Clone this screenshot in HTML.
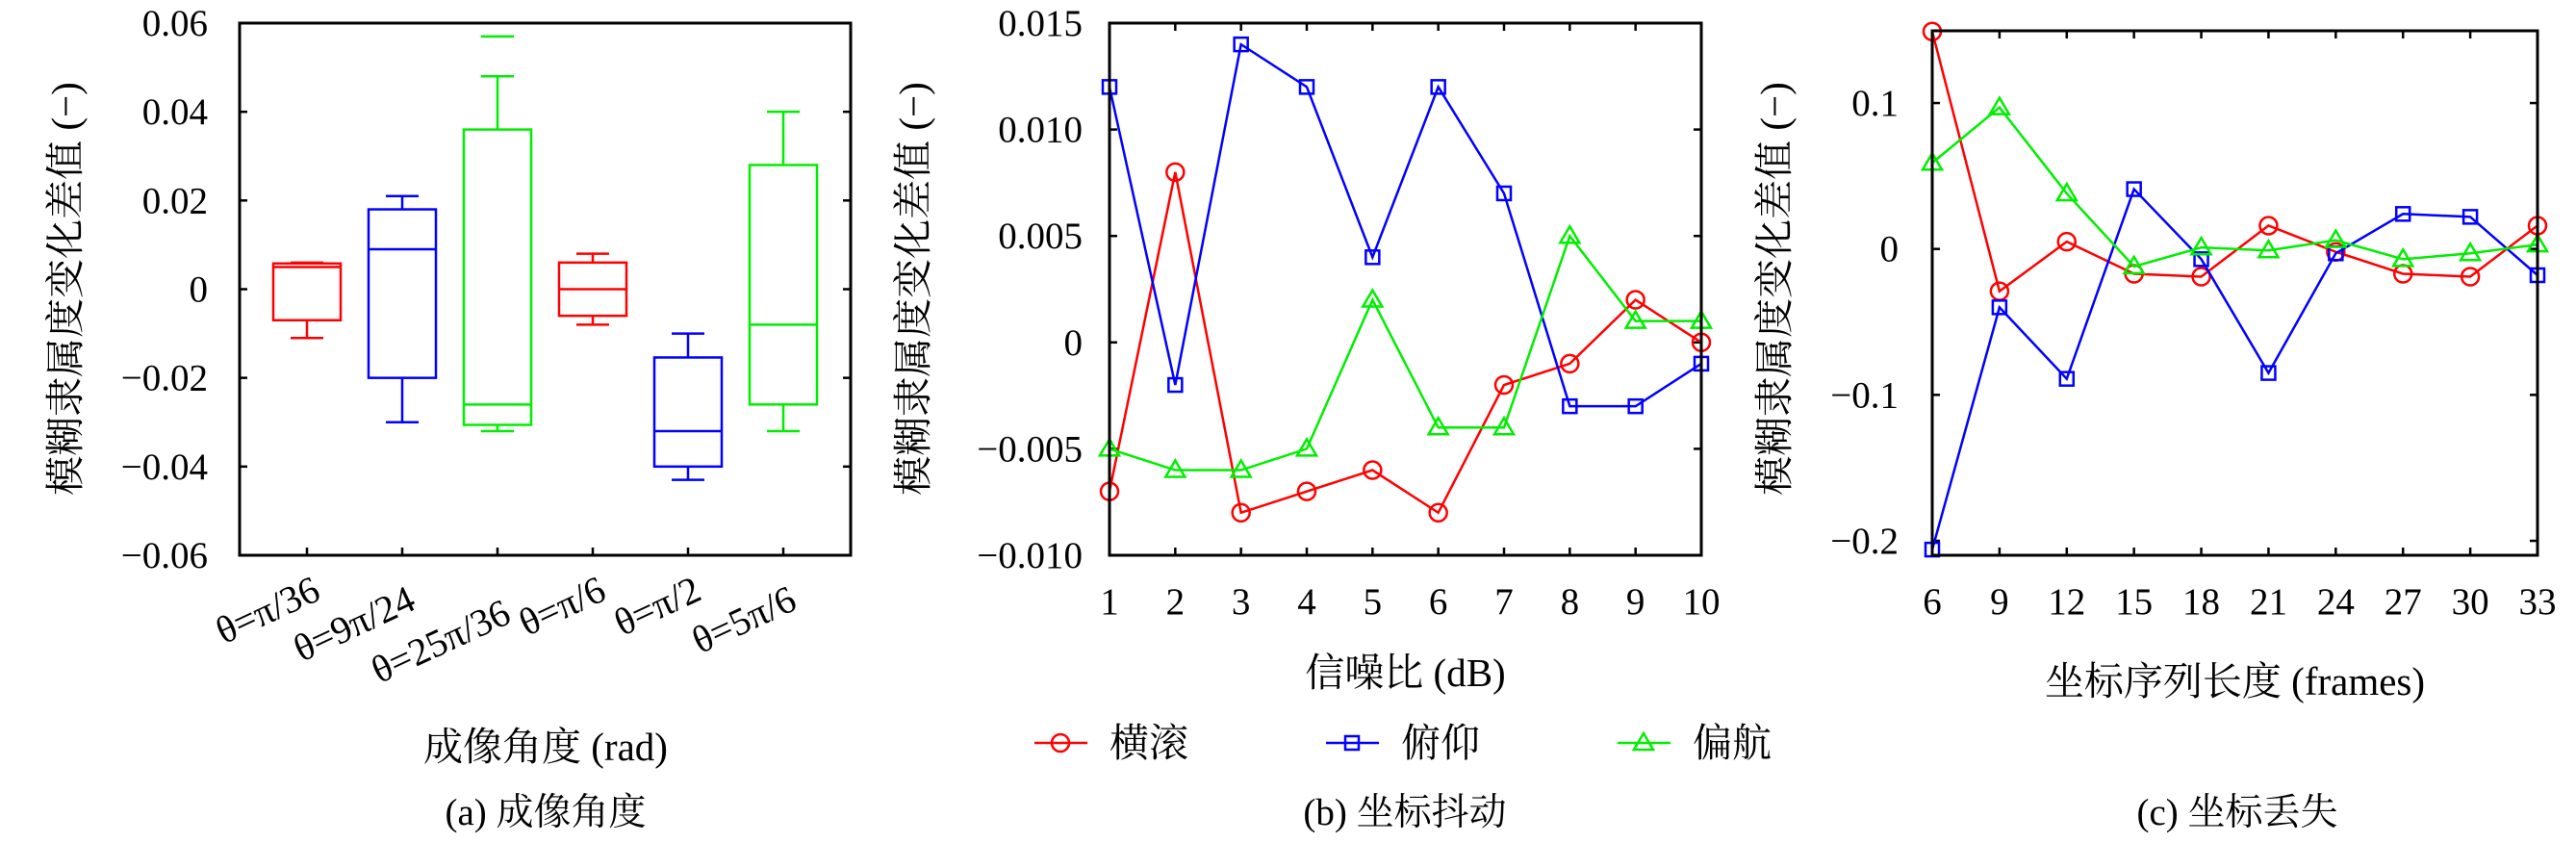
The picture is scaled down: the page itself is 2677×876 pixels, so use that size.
<!DOCTYPE html>
<html><head><meta charset="utf-8"><style>
html,body{margin:0;padding:0;background:#fff;}
svg{display:block;}
text{font-family:"Liberation Serif","Noto Serif CJK SC",serif;fill:#000;}
.cjk{font-family:"Liberation Serif","Noto Serif CJK SC",serif;}
</style></head><body>
<svg id="fig" width="2677" height="876" viewBox="0 0 2677 876" xmlns="http://www.w3.org/2000/svg"></svg>
<script>
// ---- Panel (a) box plot data ----
const boxCategories = ["θ=π/36","θ=9π/24","θ=25π/36","θ=π/6","θ=π/2","θ=5π/6"];
const boxColors = ["#ff0000","#0000ff","#00ee00","#ff0000","#0000ff","#00ee00"];
const boxMax = [0.006, 0.021, 0.048, 0.008, -0.010, 0.040];
const boxQ3 = [0.0058, 0.018, 0.036, 0.006, -0.0154, 0.028];
const boxMedian = [0.005, 0.009, -0.026, 0.000, -0.032, -0.008];
const boxQ1 = [-0.007, -0.020, -0.0306, -0.006, -0.040, -0.026];
const boxMin = [-0.011, -0.030, -0.032, -0.008, -0.043, -0.032];
const boxOutlier = [null, null, 0.057, null, null, null];
const aTicks = [0.06,0.04,0.02,0,-0.02,-0.04,-0.06];
const aTickLabels = ["0.06","0.04","0.02","0","−0.02","−0.04","−0.06"];

// ---- Panel (b) data ----
const bX = [1,2,3,4,5,6,7,8,9,10];
const bRoll = [-0.007,0.008,-0.008,-0.007,-0.006,-0.008,-0.002,-0.001,0.002,0];
const bPitch = [0.012,-0.002,0.014,0.012,0.004,0.012,0.007,-0.003,-0.003,-0.001];
const bYaw = [-0.005,-0.006,-0.006,-0.005,0.002,-0.004,-0.004,0.005,0.001,0.001];
const bYTicks = [0.015,0.010,0.005,0,-0.005,-0.010];
const bYTickLabels = ["0.015","0.010","0.005","0","−0.005","−0.010"];

// ---- Panel (c) data ----
const cX = [6,9,12,15,18,21,24,27,30,33];
const cRoll = [0.149,-0.029,0.005,-0.017,-0.019,0.016,-0.002,-0.017,-0.019,0.016];
const cPitch = [-0.206,-0.040,-0.089,0.041,-0.007,-0.085,-0.003,0.024,0.022,-0.018];
const cYaw = [0.059,0.097,0.038,-0.012,0.001,-0.001,0.006,-0.007,-0.003,0.003];
const cYTicks = [0.1,0,-0.1,-0.2];
const cYTickLabels = ["0.1","0","−0.1","−0.2"];

const NS="http://www.w3.org/2000/svg";
const svg=document.getElementById('fig');
function el(tag,attrs,parent,txt){const e=document.createElementNS(NS,tag);for(const k in attrs)e.setAttribute(k,attrs[k]);if(txt!==undefined)e.textContent=txt;(parent||svg).appendChild(e);return e;}
function lin(d0,d1,r0,r1){return v=>r0+(v-d0)/(d1-d0)*(r1-r0);}

function frame(g,L,T,R,B){
  const f=el('rect',{x:L,y:T,width:R-L,height:B-T,fill:'none',stroke:'#000','stroke-width':3},g);
  
  
}
function yAxis(g,ys,ticks,labels,L,R,labelX){
  ticks.forEach((t,i)=>{
    const y=ys(t);
    el('line',{x1:L,y1:y,x2:L+8,y2:y,stroke:'#000','stroke-width':2.5},g);
    el('line',{x1:R,y1:y,x2:R-8,y2:y,stroke:'#000','stroke-width':2.5},g);
    const t2=el('text',{x:labelX,y:y+13,'font-size':39,'text-anchor':'end'},g,labels[i]);
    
    
  });
}
function yTitle(g,x,y){
  const t=el('text',{x:x,y:y,'font-size':41,'text-anchor':'middle',class:'cjk',transform:`rotate(-90 ${x} ${y})`},g,'模糊隶属度变化差值 (−)');
  
  
}
function marker(g,type,x,y,color){
  let m;
  if(type==='circle') m=el('circle',{cx:x,cy:y,r:9,fill:'none',stroke:color,'stroke-width':2.5},g);
  else if(type==='square') m=el('rect',{x:x-7,y:y-7,width:14,height:14,fill:'none',stroke:color,'stroke-width':2.5},g);
  else m=el('polygon',{points:`${x},${y-10} ${x-10},${y+7} ${x+10},${y+7}`,fill:'none',stroke:color,'stroke-width':2.5},g);
  
  
}
function series(g,xs,ys,X,Y,color,type,name){
  const pts=X.map((v,i)=>xs(v)+','+ys(Y[i])).join(' ');
  const p=el('polyline',{points:pts,fill:'none',stroke:color,'stroke-width':2.5},g);
  
  
  X.forEach((v,i)=>marker(g,type,xs(v),ys(Y[i]),color));
}

// ===== Panel a =====
(function(){
  const g=el('g',{});
  
  
  const L=249,R=884,T=24,B=577;
  const ys=lin(-0.06,0.06,B,T);
  const xs=i=>319+i*99;
  yAxis(g,ys,aTicks,aTickLabels,L,R,216);
  boxCategories.forEach((c,i)=>{
    const x=xs(i),col=boxColors[i],hw=35,cw=17;
    const bg=el('g',{},g);
    
    
    el('line',{x1:x,y1:ys(boxMax[i]),x2:x,y2:ys(boxQ3[i]),stroke:col,'stroke-width':2.5},bg);
    el('line',{x1:x,y1:ys(boxMin[i]),x2:x,y2:ys(boxQ1[i]),stroke:col,'stroke-width':2.5},bg);
    el('line',{x1:x-cw,y1:ys(boxMax[i]),x2:x+cw,y2:ys(boxMax[i]),stroke:col,'stroke-width':2.5},bg);
    el('line',{x1:x-cw,y1:ys(boxMin[i]),x2:x+cw,y2:ys(boxMin[i]),stroke:col,'stroke-width':2.5},bg);
    if(boxOutlier[i]!==null) el('line',{x1:x-cw,y1:ys(boxOutlier[i]),x2:x+cw,y2:ys(boxOutlier[i]),stroke:col,'stroke-width':2.5},bg);
    el('rect',{x:x-hw,y:ys(boxQ3[i]),width:2*hw,height:ys(boxQ1[i])-ys(boxQ3[i]),fill:'none',stroke:col,'stroke-width':2.5},bg);
    el('line',{x1:x-hw,y1:ys(boxMedian[i]),x2:x+hw,y2:ys(boxMedian[i]),stroke:col,'stroke-width':2.5},bg);
    el('line',{x1:x,y1:B,x2:x,y2:B-8,stroke:'#000','stroke-width':2.5},g);
    const ty=[622,632,646,622,622,632][i];
    const t=el('text',{x:x+16,y:ty,'font-size':40,'text-anchor':'end',transform:`rotate(-25 ${x+16} ${ty})`},g,c);
    
    
  });
  frame(g,L,T,R,B);
  yTitle(g,82,300);
  let t=el('text',{x:567,y:790,'font-size':41,'text-anchor':'middle',class:'cjk'},g,'成像角度 (rad)');
  
  
  t=el('text',{x:567,y:857,'font-size':39,'text-anchor':'middle',class:'cjk'},g,'(a) 成像角度');
  
  
})();

function linePanel(name,L,R,T,B,xd,yd,X,yt,ytl,labelX,titleX,xTitle,xTitleY,rolls,pitch,yaw,caption,capX){
  const g=el('g',{});
  
  
  const xs=lin(xd[0],xd[1],L,R), ys=lin(yd[0],yd[1],B,T);
  yAxis(g,ys,yt,ytl,L,R,labelX);
  X.forEach(v=>{
    const x=xs(v);
    el('line',{x1:x,y1:B,x2:x,y2:B-8,stroke:'#000','stroke-width':2.5},g);
    el('line',{x1:x,y1:T,x2:x,y2:T+8,stroke:'#000','stroke-width':2.5},g);
    const t=el('text',{x:x,y:638,'font-size':39,'text-anchor':'middle'},g,String(v));
    
    
  });
  series(g,xs,ys,X,rolls,'#ff0000','circle','roll-line');
  series(g,xs,ys,X,pitch,'#0000ff','square','pitch-line');
  series(g,xs,ys,X,yaw,'#00ee00','triangle','yaw-line');
  frame(g,L,T,R,B);
  yTitle(g,titleX,300);
  let t=el('text',{x:(L+R)/2,y:xTitleY,'font-size':41,'text-anchor':'middle',class:'cjk'},g,xTitle);
  
  
  t=el('text',{x:capX,y:857,'font-size':39,'text-anchor':'middle',class:'cjk'},g,caption);
  
  
}
linePanel('panel-b-jitter',1153,1768,24,577,[1,10],[-0.010,0.015],bX,bYTicks,bYTickLabels,1125,963,'信噪比 (dB)',713,bRoll,bPitch,bYaw,'(b) 坐标抖动',1460);
linePanel('panel-c-loss',2008,2637,32,577,[6,33],[-0.2099,0.1495],cX,cYTicks,cYTickLabels,1973,1858,'坐标序列长度 (frames)',722,cRoll,cPitch,cYaw,'(c) 坐标丢失',2325);

// legend
(function(){
  const g=el('g',{});
  
  
  const items=[['横滚','#ff0000','circle',1075],['俯仰','#0000ff','square',1378],['偏航','#00ee00','triangle',1681]];
  items.forEach(it=>{
    const e=el('g',{},g);
    
    
    el('line',{x1:it[3],y1:772,x2:it[3]+55,y2:772,stroke:it[1],'stroke-width':2.5},e);
    marker(e,it[2],it[3]+27,772,it[1]);
    el('text',{x:it[3]+78,y:786,'font-size':41,class:'cjk'},e,it[0]);
  });
})();
</script>
</body></html>
